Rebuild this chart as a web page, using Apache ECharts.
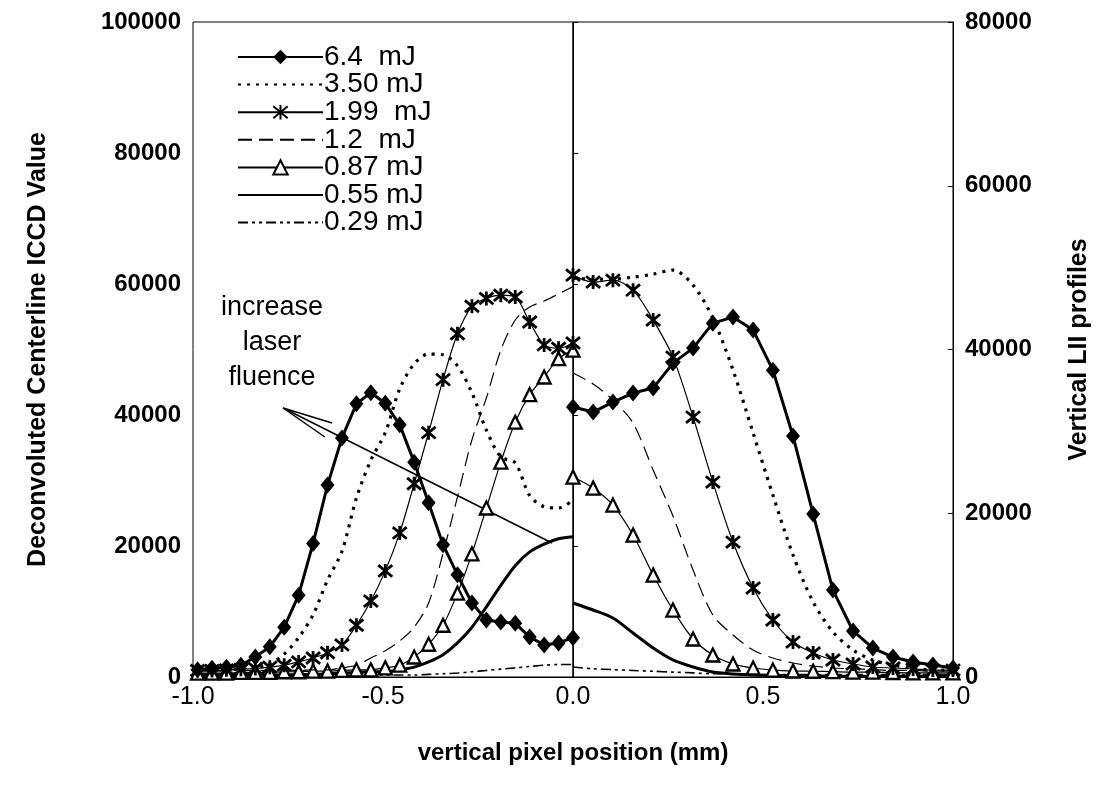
<!DOCTYPE html>
<html>
<head>
<meta charset="utf-8">
<script src="https://cdn.jsdelivr.net/npm/echarts@6/dist/echarts.min.js"></script>
<style>
html,body{margin:0;padding:0;background:#fff;}
#chart{width:1107px;height:793px;}
</style>
</head>
<body>
<div id="chart"></div>
<script>
// x positions (mm) — left half plotted on left axis, right half on right axis
const xLeft = [-0.988,-0.950,-0.912,-0.874,-0.836,-0.798,-0.760,-0.722,-0.684,-0.646,-0.608,-0.570,-0.532,-0.494,-0.456,-0.418,-0.380,-0.342,-0.304,-0.266,-0.228,-0.190,-0.152,-0.114,-0.076,-0.038,0.000];
const xRight = [0.000,0.053,0.105,0.158,0.211,0.263,0.316,0.368,0.421,0.474,0.526,0.579,0.632,0.684,0.737,0.789,0.842,0.895,0.947,1.000];

const seriesNames = ['6.4  mJ','3.50 mJ','1.99  mJ','1.2  mJ','0.87 mJ','0.55 mJ','0.29 mJ'];

// Deconvoluted centerline ICCD value (left half, left axis)
const left64  = [1100,1350,1500,1800,3050,4600,7600,12500,20400,29300,36500,41700,43400,41800,38500,32800,26600,20200,15600,11300,8700,8400,8200,6100,4900,5200,6000];
const left350 = [1000,1000,1100,1200,1400,2000,3500,6000,9500,14800,19200,27300,33100,37300,44000,47800,49300,49200,47500,43400,37700,33600,32700,27700,26000,25800,27000];
const left199 = [1000,1000,1100,1200,1300,1500,1800,2300,2900,3700,4900,7900,11600,16200,22000,29500,37300,45400,52400,56600,57800,58300,58000,54200,50700,50200,51000];
const left12  = [900,900,900,1000,1000,1000,1000,1000,1100,1100,1400,1800,2900,4000,5500,7600,11300,18900,27500,36200,42600,49900,54500,56500,57400,58500,59600];
const left087 = [600,600,600,700,700,700,800,800,900,900,1000,1100,1100,1400,1800,3050,5000,7900,12800,18800,25800,32800,38900,43100,45800,48600,49900];
const left055 = [300,300,300,300,300,300,300,400,400,500,600,700,800,800,1100,1500,2300,3400,5200,7600,10700,14000,17000,19100,20300,21100,21400];
const left029 = [200,200,200,200,200,200,200,200,300,300,300,300,300,300,300,300,400,500,600,800,1000,1200,1400,1600,1800,1900,1900];

// Vertical LII profiles (right half, right axis)
const right64  = [32970,32360,33580,34680,35290,38340,40170,43220,43960,42370,37480,29430,19900,10620,5620,3540,2440,1830,1470,1100];
const right350 = [48700,48600,48600,48840,49200,49700,47860,43840,37500,29800,22220,14900,9160,5500,3300,2080,1470,1100,850,850];
const right199 = [49080,48230,48470,47250,43590,39070,31750,23810,16480,10870,6960,4270,2930,2080,1590,1220,1100,980,850,850];
const right12  = [37120,35780,33820,31010,25270,19660,13060,7570,5130,3300,2320,1710,1340,1100,1000,900,800,800,700,700];
const right087 = [24420,23080,21000,17340,12450,8180,4640,2690,1590,1100,850,730,700,650,600,600,550,500,500,500];
const right055 = [9040,8180,7200,5370,3540,2080,1220,610,370,240,200,150,150,100,100,100,100,100,100,100];
const right029 = [1220,1000,900,800,700,600,500,400,400,300,300,300,300,300,300,300,300,300,300,300];

const xTicks = [-1.0,-0.5,0.0,0.5,1.0];
const leftTicks = [0,20000,40000,60000,80000,100000];
const rightTicks = [0,20000,40000,60000,80000];

// annotation arrow (data coords on left axis)
const arrowTail = [-0.055, 20460];
const arrowTip = [-0.763, 41070];
const arrowWing1 = [-0.634, 38780];
const arrowWing2 = [-0.653, 36640];

const leftSets = [left64,left350,left199,left12,left087,left055,left029];
const rightSets = [right64,right350,right199,right12,right087,right055,right029];

const starPath = 'path://M0,0L10,10M10,0L0,10M5,-1L5,11';
const styles = [
  {symbol:'diamond', symbolSize:[14,17], item:{color:'#000'}, line:{width:3, type:'solid'}, smooth:false},
  {symbol:'none', line:{width:3.2, type:[3,6]}, smooth:0.3},
  {symbol:starPath, symbolSize:14, item:{color:'#000', borderColor:'#000', borderWidth:2.8}, line:{width:1.2, type:'solid'}, smooth:0.3},
  {symbol:'none', line:{width:1.2, type:[14,7]}, smooth:0.3},
  {symbol:'triangle', symbolSize:13, item:{color:'#fff', borderColor:'#000', borderWidth:2.3}, line:{width:1.2, type:'solid'}, smooth:0.3},
  {symbol:'none', line:{width:3, type:'solid'}, smooth:0.3},
  {symbol:'none', line:{width:1.6, type:[10,4,3,4,3,4]}, smooth:0.3}
];

function pairs(xs, ys){ return xs.map((x,i)=>[x, ys[i]]); }

const series = [];
seriesNames.forEach((name, k)=>{
  const st = styles[k];
  [[xLeft,leftSets[k],0],[xRight,rightSets[k],1]].forEach(([xs,ys,ax])=>{
    series.push({
      name: name,
      type: 'line',
      yAxisIndex: ax,
      data: pairs(xs, ys),
      symbol: st.symbol,
      symbolSize: st.symbolSize || 10,
      showSymbol: st.symbol !== 'none',
      smooth: st.smooth,
      itemStyle: Object.assign({color:'#000'}, st.item || {}),
      lineStyle: {color:'#000', width: st.line.width, type: st.line.type},
      emphasis: {disabled:true},
      animation: false,
      z: 10 - k
    });
  });
});

// vertical line at x = 0 and the annotation arrow
series[0].markLine = {
  silent: true, symbol: 'none', animation:false,
  label: {show:false},
  lineStyle: {color:'#000', width:1.5, type:'solid'},
  data: [
    {xAxis: 0},
    [{coord: arrowTail}, {coord: arrowTip}],
    [{coord: arrowTip}, {coord: arrowWing1}],
    [{coord: arrowTip}, {coord: arrowWing2}]
  ]
};

const legendData = seriesNames.map((n,k)=> styles[k].symbol === 'none'
  ? {name:n, itemStyle:{opacity:0}}
  : {name:n});

const fontMain = 'Liberation Sans, Arial, sans-serif';
const chart = echarts.init(document.getElementById('chart'), null, {renderer:'canvas'});
chart.setOption({
  backgroundColor: '#fff',
  animation: false,
  grid: {left:193, right:154, top:22, bottom:116, show:true, borderColor:'#000', borderWidth:1, backgroundColor:'transparent'},
  legend: {
    data: legendData,
    orient: 'vertical',
    left: 232, top: 38,
    itemWidth: 85, itemHeight: 18, itemGap: -0.4,
    textStyle: {color:'#000', fontSize:28, fontFamily:fontMain, padding:[0,0,0,-4]},
    selectedMode: false
  },
  xAxis: {
    type: 'value', min: -1, max: 1, interval: 0.5,
    axisLine: {show:true, onZero:false, lineStyle:{color:'#000', width:1}},
    axisTick: {show:false},
    splitLine: {show:false},
    axisLabel: {color:'#000', fontSize:25, fontFamily:fontMain, margin:8,
      formatter: v => { const t = xTicks.find(tv => Math.abs(tv - v) < 1e-9); return t === undefined ? '' : t.toFixed(1); }},
    name: 'vertical pixel position (mm)',
    nameLocation: 'middle', nameGap: 64,
    nameTextStyle: {color:'#000', fontSize:24, fontWeight:'bold', fontFamily:fontMain}
  },
  yAxis: [
    {
      type: 'value', min: leftTicks[0], max: leftTicks[leftTicks.length-1], interval: 20000,
      position: 'left',
      axisLine: {show:true, lineStyle:{color:'#000', width:1}},
      axisTick: {show:true, inside:true, length:5, lineStyle:{color:'#000'}},
      splitLine: {show:false},
      axisLabel: {color:'#000', fontSize:24, fontWeight:'bold', fontFamily:fontMain, margin:12, formatter: v => String(v)},
      name: 'Deconvoluted Centerline ICCD Value',
      nameLocation: 'middle', nameGap: 142, nameRotate: 90,
      nameTextStyle: {color:'#000', fontSize:25, fontWeight:'bold', fontFamily:fontMain}
    },
    {
      type: 'value', min: rightTicks[0], max: rightTicks[rightTicks.length-1], interval: 20000,
      position: 'right',
      axisLine: {show:true, lineStyle:{color:'#000', width:1}},
      axisTick: {show:true, inside:true, length:5, lineStyle:{color:'#000'}},
      splitLine: {show:false},
      axisLabel: {color:'#000', fontSize:24, fontWeight:'bold', fontFamily:fontMain, margin:12, formatter: v => String(v)},
      name: 'Vertical LII profiles',
      nameLocation: 'middle', nameGap: 114, nameRotate: 90,
      nameTextStyle: {color:'#000', fontSize:25, fontWeight:'bold', fontFamily:fontMain}
    }
  ],
  graphic: [
    {type:'text', x:272, y:290, silent:true,
     style:{text:'increase\nlaser\nfluence', fill:'#000', font:'27px "Liberation Sans", Arial, sans-serif', textAlign:'center', textVerticalAlign:'top', lineHeight:35}}
  ],
  series: series
});
</script>
</body>
</html>
